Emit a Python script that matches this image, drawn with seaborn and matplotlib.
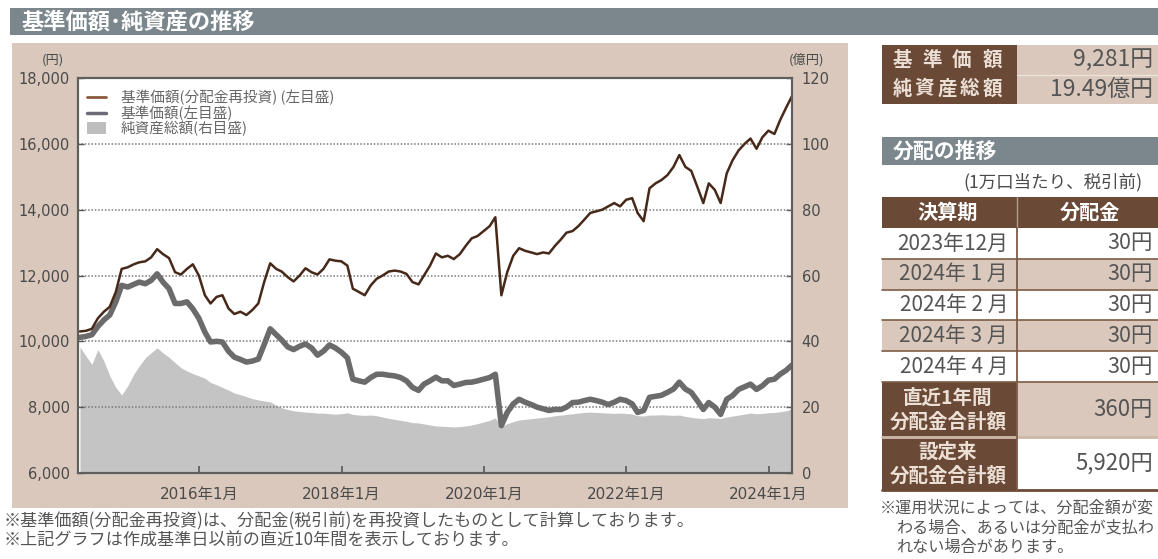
import pandas as pd
import matplotlib
matplotlib.use('Agg')
import matplotlib.pyplot as plt
from matplotlib.patches import Rectangle
from matplotlib.lines import Line2D
import seaborn as sns

sns.set_theme(style='white')
plt.rcParams['font.family'] = ['Noto Sans CJK JP', 'DejaVu Sans']

# %% Data (month-end values, 2014-04 .. 2024-04)
dates = pd.date_range('2014-04-30', periods=121, freq='ME')

nav_reinvest = [
    10300, 10320, 10380, 10700, 10900, 11050, 11500, 12200, 12250, 12340,
    12400, 12430, 12550, 12800, 12650, 12530, 12100, 12030, 12200, 12340,
    12000, 11400, 11150, 11350, 11400, 11000, 10830, 10900, 10800, 10950,
    11150, 11800, 12370, 12200, 12120, 11950, 11820, 12000, 12220, 12100,
    12030, 12200, 12490, 12450, 12430, 12300, 11600, 11500, 11400, 11700,
    11900, 12000, 12120, 12150, 12120, 12050, 11800, 11730, 12000, 12300,
    12670, 12550, 12600, 12500, 12650, 12900, 13130, 13200, 13350, 13500,
    13770, 11400, 12100, 12600, 12830, 12750, 12700, 12650, 12700, 12670,
    12900, 13100, 13300, 13350, 13500, 13700, 13900, 13950, 14000, 14100,
    14200, 14100, 14300, 14350, 13900, 13650, 14650, 14800, 14900, 15050,
    15300, 15660, 15300, 15180, 14700, 14200, 14800, 14600, 14200, 15100,
    15500, 15800, 16000, 16160, 15850, 16200, 16400, 16300, 16720, 17100,
    17450,
]
nav = [
    10120, 10150, 10200, 10450, 10650, 10800, 11200, 11700, 11650, 11730,
    11800, 11750, 11850, 12050, 11800, 11600, 11150, 11150, 11200, 10990,
    10700, 10280, 9980, 10000, 9980, 9700, 9520, 9450, 9370, 9400,
    9460, 9900, 10380, 10200, 10040, 9830, 9750, 9850, 9920, 9800,
    9580, 9700, 9890, 9800, 9670, 9500, 8850, 8800, 8760, 8900,
    9000, 9000, 8970, 8950, 8900, 8800, 8600, 8510, 8700, 8800,
    8910, 8800, 8800, 8660, 8700, 8750, 8760, 8800, 8850, 8900,
    9000, 7440, 7840, 8100, 8240, 8150, 8080, 8000, 7950, 7900,
    7930, 7930, 8000, 8140, 8150, 8200, 8240, 8200, 8150, 8080,
    8150, 8240, 8200, 8100, 7840, 7900, 8300, 8330, 8360, 8450,
    8550, 8760, 8550, 8450, 8200, 7930, 8140, 8000, 7780, 8240,
    8350, 8540, 8620, 8700, 8540, 8650, 8820, 8850, 9000, 9120,
    9281,
]
aum = [
    38.3, 35.5, 33.0, 37.5, 34.0, 29.5, 26.0, 23.7, 26.5, 30.0,
    32.5, 35.0, 36.5, 38.0, 36.5, 35.2, 33.5, 32.0, 31.0, 30.2,
    29.5, 28.8, 27.5, 26.8, 26.0, 25.2, 24.3, 23.8, 23.2, 22.6,
    22.2, 21.9, 21.6, 20.6, 19.8, 19.3, 18.9, 18.7, 18.5, 18.4,
    18.2, 18.2, 18.0, 17.9, 18.0, 18.3, 17.8, 17.6, 17.5, 17.6,
    17.4, 17.0, 16.6, 16.3, 16.0, 15.7, 15.3, 15.2, 14.9, 14.6,
    14.3, 14.2, 14.1, 14.0, 14.1, 14.3, 14.6, 15.0, 15.5, 16.0,
    16.7, 14.0, 15.0, 15.6, 16.1, 16.3, 16.5, 16.7, 16.9, 17.1,
    17.4, 17.6, 17.8, 18.0, 18.2, 18.4, 18.5, 18.4, 18.3, 18.2,
    18.1, 18.2, 18.1, 17.9, 17.4, 17.3, 17.6, 17.6, 17.7, 17.6,
    17.5, 17.6, 17.2, 16.9, 16.7, 16.5, 16.8, 16.7, 16.6, 17.0,
    17.3, 17.6, 17.9, 18.2, 18.0, 18.1, 18.3, 18.4, 18.6, 18.9,
    19.49,
]

series_labels = ['基準価額(分配金再投資) (左目盛)', '基準価額(左目盛)', '純資産総額(右目盛)']
x_tick_dates = ['2016-01-01', '2018-01-01', '2020-01-01', '2022-01-01', '2024-01-01']
x_tick_labels = ['2016年1月', '2018年1月', '2020年1月', '2022年1月', '2024年1月']
left_ticks = [6000, 8000, 10000, 12000, 14000, 16000, 18000]
left_tick_labels = ['6,000', '8,000', '10,000', '12,000', '14,000', '16,000', '18,000']
right_ticks = [0, 20, 40, 60, 80, 100, 120]
right_tick_labels = ['0', '20', '40', '60', '80', '100', '120']

summary_items = ['基準価額', '純資産総額']
summary_values = ['9,281円', '19.49億円']
dist_periods = ['2023年12月', '2024年 1 月', '2024年 2 月', '2024年 3 月', '2024年 4 月']
dist_amounts = ['30円', '30円', '30円', '30円', '30円']
total_items = [('直近1年間', '分配金合計額'), ('設定来', '分配金合計額')]
total_values = ['360円', '5,920円']

# %% Colours
BROWN = '#6a4a36'
BEIGE = '#d9c8bb'
BAR_GRAY = '#7b878c'
TXT = '#4a4a4a'

W, H = 1158, 559
fig = plt.figure(figsize=(W / 100, H / 100), dpi=100)


def box(x0, y0, x1, y1, color, z=1):
    fig.add_artist(Rectangle((x0 / W, 1 - y1 / H), (x1 - x0) / W, (y1 - y0) / H,
                             transform=fig.transFigure, facecolor=color,
                             edgecolor='none', zorder=z))


def hline(x0, x1, y, color, lw=1.0):
    fig.add_artist(Line2D([x0 / W, x1 / W], [1 - y / H] * 2, transform=fig.transFigure,
                          color=color, lw=lw, zorder=2))


def vline(x, y0, y1, color, lw=1.0):
    fig.add_artist(Line2D([x / W] * 2, [1 - y0 / H, 1 - y1 / H], transform=fig.transFigure,
                          color=color, lw=lw, zorder=2))


def txt(x, y, s, **kw):
    kw.setdefault('va', 'center')
    fig.text(x / W, 1 - y / H, s, **kw)


# %% Background blocks
box(10, 8, 1160, 35, BAR_GRAY, z=-2)
txt(21, 22, '基準価額･純資産の推移', color='white', fontsize=16, fontweight='bold')
box(12, 43, 848, 508, BEIGE, z=-1)

# %% Chart
ax = fig.add_axes([78 / W, 1 - 473 / H, 714 / W, 395 / H])
ax2 = ax.twinx()
ax2.fill_between(dates, aum, 0, color='#c4c4c4', lw=0)
ax2.set_ylim(0, 120)
ax.set_zorder(ax2.get_zorder() + 1)
ax.patch.set_visible(False)
ax2.patch.set_visible(True)
ax2.patch.set_facecolor('white')

sns.lineplot(x=dates, y=nav, ax=ax, color='#6b6b6b', lw=4)
sns.lineplot(x=dates, y=nav_reinvest, ax=ax, color='#47291a', lw=1.8)

ax.set_ylim(6000, 18000)
ax.set_xlim(dates[0] - pd.Timedelta(days=10), dates[-1])
ax.set_yticks(left_ticks)
ax.set_yticklabels(left_tick_labels, family='DejaVu Sans')
ax2.set_yticks(right_ticks)
ax2.set_yticklabels(right_tick_labels, family='DejaVu Sans')
ax.set_xticks(pd.to_datetime(x_tick_dates))
ax.set_xticklabels(x_tick_labels, family=['DejaVu Sans', 'Noto Sans CJK JP'])
ax.set_xlabel('')
ax.set_ylabel('')

ax.yaxis.grid(True, linestyle=(0, (1, 1.2)), color='#7a7a7a', lw=1.1)
ax.xaxis.grid(False)
ax.tick_params(axis='y', direction='in', length=4, width=1, color='#555',
               left=True, right=False, labelsize=10.5, labelcolor=TXT, pad=6)
ax.tick_params(axis='x', direction='in', length=5, width=1.2, color='#555',
               bottom=True, top=False, labelsize=11, labelcolor=TXT, pad=10)
ax2.tick_params(axis='y', direction='in', length=4, width=1, color='#555',
                right=True, labelsize=10.5, labelcolor=TXT, pad=7)
for a in (ax, ax2):
    for s in a.spines.values():
        s.set_color('#5f5f5f')
        s.set_linewidth(1.5)

handles = [Line2D([], [], color='#8a5a3a', lw=2),
           Line2D([], [], color='#6b6b78', lw=2.5),
           Rectangle((0, 0), 1, 1, facecolor='#bdbdbd', edgecolor='none')]
ax.legend(handles, series_labels, loc='upper left',
          bbox_to_anchor=((87 - 78) / 714, (473 - 90) / 395),
          frameon=False, borderpad=0, borderaxespad=0, handlelength=1.3,
          handleheight=0.8, handletextpad=1.0, labelspacing=0.0,
          fontsize=10.5, labelcolor='#666')

txt(53, 60, '(円)', fontsize=9.5, color=TXT, ha='center')
txt(806, 60, '(億円)', fontsize=9.5, color=TXT, ha='center')

# %% Notes under chart
txt(4, 521, '※基準価額(分配金再投資)は、分配金(税引前)を再投資したものとして計算しております。',
    fontsize=12.3, color='#555')
txt(4, 541, '※上記グラフは作成基準日以前の直近10年間を表示しております。',
    fontsize=12.3, color='#555')

# %% Right panel: summary
box(882, 45, 1017, 104, BROWN)
box(1017, 45, 1160, 104, BEIGE)
hline(1017, 1160, 74.5, '#eee4dc', 1)
for i, (item, val) in enumerate(zip(summary_items, summary_values)):
    yc = 60 + i * 29
    n = len(item)
    for j, ch in enumerate(item):
        xc = 902 + j * (90 / (n - 1))
        txt(xc, yc, ch, ha='center', fontsize=14, fontweight='bold', color='#ecdfd5')
    txt(1153, yc, val, ha='right', fontsize=16.5, color='#555')

# %% Right panel: distribution table
box(882, 137, 1160, 165, BAR_GRAY)
txt(893, 151, '分配の推移', color='white', fontsize=15, fontweight='bold')
txt(963, 182, '(1万口当たり、税引前)', fontsize=12.6, color=TXT)

box(882, 197, 1160, 228, BROWN)
vline(1017, 197, 228, '#b59c8a', 1)
txt(948, 212, '決算期', ha='center', fontsize=14.5, fontweight='bold', color='white')
txt(1090, 212, '分配金', ha='center', fontsize=14.5, fontweight='bold', color='white')

row_h = 30.8
for i, (p, a) in enumerate(zip(dist_periods, dist_amounts)):
    y0 = 228 + i * row_h
    box(882, y0, 1160, y0 + row_h, 'white' if i % 2 == 0 else BEIGE)
    txt(1008, y0 + row_h / 2, p, ha='right', fontsize=15, color='#555')
    txt(1153, y0 + row_h / 2, a, ha='right', fontsize=15.5, color='#555')
    hline(882, 1160, y0 + row_h, '#7d5c47', 1.2)

tot_rows = [(382, 437, BEIGE), (437, 490, 'white')]
for (y0, y1, col), (l1, l2), val in zip(tot_rows, total_items, total_values):
    box(882, y0, 1017, y1, BROWN)
    box(1017, y0, 1160, y1, col)
    ym = (y0 + y1) / 2
    txt(948, ym - 11, l1, ha='center', fontsize=14, fontweight='bold', color='#ecdfd5')
    txt(948, ym + 12, l2, ha='center', fontsize=14, fontweight='bold', color='#ecdfd5')
    txt(1153, ym, val, ha='right', fontsize=16, color='#555')
hline(882, 1160, 437, '#cdb8a8', 2)
hline(882, 1160, 490, BROWN, 2)
vline(1017, 228, 490, '#7d5c47', 1.3)

txt(880, 508, '※運用状況によっては、分配金額が変', fontsize=11.6, color='#555')
txt(896, 528, 'わる場合、あるいは分配金が支払わ', fontsize=11.6, color='#555')
txt(896, 547, 'れない場合があります。', fontsize=11.6, color='#555')

fig.savefig('out.png', dpi=100)
